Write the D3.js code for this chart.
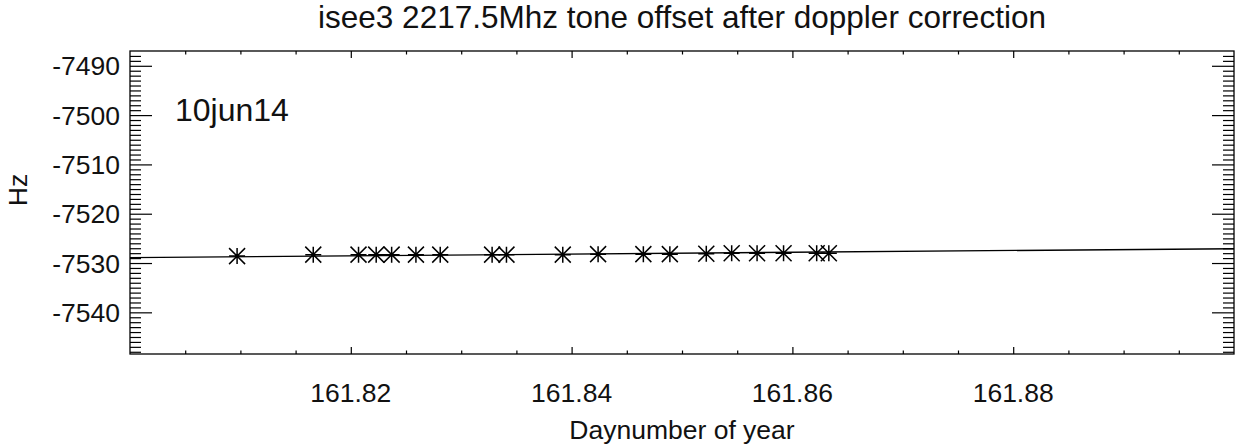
<!DOCTYPE html>
<html>
<head>
<meta charset="utf-8">
<script src="https://cdn.jsdelivr.net/npm/d3@7"></script>
<style>
  body { margin: 0; background: #fff; }
  svg text { font-family: "Liberation Sans", Arial, Helvetica, sans-serif; fill: #111; }
</style>
</head>
<body>
<div id="chart"></div>
<script>
// Données
const dayNumbers = [161.8097, 161.8166, 161.8207, 161.8223, 161.8237, 161.8259, 161.8281,
                    161.8328, 161.8341, 161.8392, 161.8424, 161.8465, 161.8489, 161.8522,
                    161.8545, 161.8568, 161.8592, 161.8622, 161.8633];
const offsetsHz = [-7528.6, -7528.3, -7528.3, -7528.3, -7528.3, -7528.3, -7528.3,
                   -7528.3, -7528.3, -7528.3, -7528.2, -7528.2, -7528.2, -7528.1,
                   -7528.0, -7528.0, -7528.0, -7528.0, -7528.0];
// Droite d'ajustement (extrémités)
const fitDays = [161.80, 161.90];
const fitHz = [-7528.9, -7527.1];
const xTicks = [161.82, 161.84, 161.86, 161.88];
const yTicks = [-7490, -7500, -7510, -7520, -7530, -7540];

const width = 1237, height = 448;
const plotLeft = 130, plotRight = 1234, plotTop = 51, plotBottom = 354;

const svg = d3.select("#chart").append("svg")
  .attr("width", width).attr("height", height);

const x = d3.scaleLinear().domain([161.80, 161.90]).range([plotLeft, plotRight]);
const y = d3.scaleLinear().domain([-7548.45, -7487.0]).range([plotBottom, plotTop]);

// Cadre
svg.append("rect")
  .attr("x", plotLeft).attr("y", plotTop)
  .attr("width", plotRight - plotLeft).attr("height", plotBottom - plotTop)
  .attr("fill", "none").attr("stroke", "#000").attr("stroke-width", 1.3);

// Graduations X (bas et haut, vers l'intérieur)
const xMinor = d3.range(161.805, 161.9, 0.005).filter(v => xTicks.every(t => Math.abs(t - v) > 1e-6));
function xAxis(g, ticks, len, up) {
  g.call(d3.axisBottom(x).tickValues(ticks).tickSizeInner(up ? -len : len).tickSizeOuter(0).tickFormat(""))
   .call(a => a.select(".domain").remove());
}
svg.append("g").attr("transform", `translate(0,${plotBottom})`).call(xAxis, xTicks, 7, true);
svg.append("g").attr("transform", `translate(0,${plotBottom})`).call(xAxis, xMinor, 3.5, true);
svg.append("g").attr("transform", `translate(0,${plotTop})`).call(xAxis, xTicks, 7, false);
svg.append("g").attr("transform", `translate(0,${plotTop})`).call(xAxis, xMinor, 3.5, false);

// Graduations Y
const yMinor = d3.range(-7548, -7487, 1).filter(v => v % 10 !== 0);
function yAxis(g, ticks, len, inward) {
  g.call(d3.axisLeft(y).tickValues(ticks).tickSizeInner(inward ? -len : len).tickSizeOuter(0).tickFormat(""))
   .call(a => a.select(".domain").remove());
}
svg.append("g").attr("transform", `translate(${plotLeft},0)`).call(yAxis, yTicks, 22, true);
svg.append("g").attr("transform", `translate(${plotLeft},0)`).call(yAxis, yMinor, 11, true);
svg.append("g").attr("transform", `translate(${plotRight},0)`).call(yAxis, yTicks, 22, false);
svg.append("g").attr("transform", `translate(${plotRight},0)`).call(yAxis, yMinor, 11, false);
svg.selectAll(".tick line").attr("stroke", "#000").attr("stroke-width", 1.2);

// Étiquettes
svg.selectAll(".xlab").data(xTicks).enter().append("text")
  .attr("x", d => x(d)).attr("y", 402)
  .attr("text-anchor", "middle").attr("font-size", 26.5)
  .text(d => d.toFixed(2));
svg.selectAll(".ylab").data(yTicks).enter().append("text")
  .attr("x", 120).attr("y", d => y(d) + 9.5)
  .attr("text-anchor", "end").attr("font-size", 26.5)
  .text(d => d);

svg.append("text").attr("x", 682).attr("y", 28)
  .attr("text-anchor", "middle").attr("font-size", 31.5)
  .text("isee3 2217.5Mhz tone offset after doppler correction");
svg.append("text").attr("x", 682).attr("y", 439)
  .attr("text-anchor", "middle").attr("font-size", 26.5)
  .text("Daynumber of year");
svg.append("text").attr("transform", "translate(27,190) rotate(-90)")
  .attr("text-anchor", "middle").attr("font-size", 26.5)
  .text("Hz");
svg.append("text").attr("x", 175).attr("y", 121)
  .attr("font-size", 32).text("10jun14");

// Droite d'ajustement
svg.append("path")
  .datum(fitDays.map((d, i) => [d, fitHz[i]]))
  .attr("d", d3.line().x(d => x(d[0])).y(d => y(d[1])))
  .attr("fill", "none").attr("stroke", "#000").attr("stroke-width", 1.3);

// Astérisques
const r = 8;
const star = `M${-r},0L${r},0M0,${-r}L0,${r}M${-r},${-r}L${r},${r}M${-r},${r}L${r},${-r}`;
svg.selectAll(".pt").data(dayNumbers).enter().append("path")
  .attr("transform", (d, i) => `translate(${x(d)},${y(offsetsHz[i])})`)
  .attr("d", star)
  .attr("fill", "none").attr("stroke", "#000").attr("stroke-width", 1.5);
</script>
</body>
</html>
